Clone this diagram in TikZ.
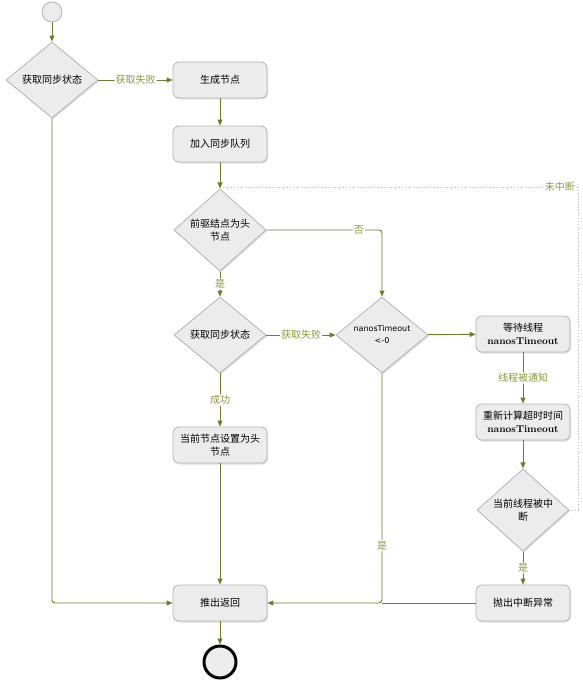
\documentclass[tikz,border=0pt]{standalone}
\usepackage{fontspec}
\setmainfont{Noto Sans CJK SC}
\newfontfamily\latinbold{Latin Modern Roman}
\newfontfamily\thinsans{DejaVu Sans}
\usetikzlibrary{shapes.geometric,arrows.meta,shadows}
\definecolor{lineol}{HTML}{6E7D2C}
\definecolor{labelol}{HTML}{8C9A3C}
\definecolor{nodefill}{HTML}{ECECEC}
\definecolor{nodeborder}{HTML}{B4B4B4}
\tikzset{
  base/.style={draw=nodeborder, fill=nodefill, line width=0.8pt, font=\fontsize{10}{13}\selectfont, align=center,
    drop shadow={shadow xshift=1pt, shadow yshift=-1.5pt, opacity=0.25}},
  actbox/.style={base, rounded corners=6pt, minimum width=94pt, minimum height=36pt, inner sep=1pt},
  decision/.style={base, diamond, inner sep=0pt, minimum width=92pt, minimum height=76pt},
  flow/.style={draw=lineol, line width=0.9pt, -{Triangle[length=6pt,width=5pt]}, rounded corners=3pt},
  plainflow/.style={draw=lineol, line width=0.9pt, rounded corners=3pt},
  elabel/.style={fill=white, text=labelol, font=\fontsize{10}{12}\selectfont, inner sep=1pt},
  dotline/.style={draw=black!25, line width=0.8pt, dotted}
}
\begin{document}
\begin{tikzpicture}[x=1pt,y=-1pt]
\useasboundingbox (0,0) rectangle (582,698);
% nodes
\node[circle, draw=nodeborder, fill=nodefill, line width=0.8pt, minimum size=20pt, inner sep=0pt] (start) at (52,12) {};
\node[decision] (d1) at (52,80) {获取同步状态};
\node[actbox] (gen) at (220,80) {生成节点};
\node[actbox] (join) at (220,144) {加入同步队列};
\node[decision] (d2) at (220,230) {前驱结点为头\\节点};
\node[decision] (d3) at (220,335) {获取同步状态};
\node[decision, font=\thinsans\fontsize{8}{12}\selectfont] (d4) at (382,335) {nanosTimeout\\<-0};
\node[actbox] (wait) at (523,334) {等待线程\\{\latinbold\bfseries nanosTimeout}};
\node[actbox] (recalc) at (523,422) {重新计算超时时间\\{\latinbold\bfseries nanosTimeout}};
\node[decision] (d5) at (523,510) {当前线程被中\\断};
\node[actbox] (sethead) at (220,445) {当前节点设置为头\\节点};
\node[actbox] (ret) at (220,603) {推出返回};
\node[actbox] (throw) at (523,603) {抛出中断异常};
\node[circle, draw=black, fill=nodefill, line width=3pt, minimum size=32pt, inner sep=0pt] (end) at (220,662) {};
\coordinate (c1) at (52,603);
\coordinate (c2) at (382,230);
\coordinate (c3) at (382,603);
\coordinate (r1) at (578,510);
\coordinate (r2) at (578,187);
\coordinate (r3) at (222,187);
% connectors
\draw[flow] (start) -- (d1);
\draw[flow] (d1) -- node[elabel] {获取失败} (gen);
\draw[flow] (d1.south) -- (c1) -- (ret.west);
\draw[flow] (gen) -- (join);
\draw[flow] (join) -- (d2);
\draw[flow] (d2.east) -- node[elabel, pos=0.8] {否} (c2) -- (d4.north);
\draw[flow] (d2) -- node[elabel] {是} (d3);
\draw[flow] (d3) -- node[elabel] {获取失败} (d4);
\draw[flow] (d3) -- node[elabel] {成功} (sethead);
\draw[flow] (sethead) -- (ret);
\draw[flow] (d4) -- (wait);
\draw[flow] (d4.south) -- node[elabel, pos=0.75] {是} (c3) -- (ret.east);
\draw[flow] (wait) -- node[elabel] {线程被通知} (recalc);
\draw[flow] (recalc) -- (d5);
\draw[flow] (d5) -- node[elabel] {是} (throw);
\draw[plainflow] (throw.west) -- (c3);
\draw[flow] (ret) -- (end);
\draw[dotline] (d5.east) -- (r1) -- (r2) -- (r3);
\node[elabel, anchor=east] (lbl) at (576,187) {未中断};
\end{tikzpicture}
\end{document}
